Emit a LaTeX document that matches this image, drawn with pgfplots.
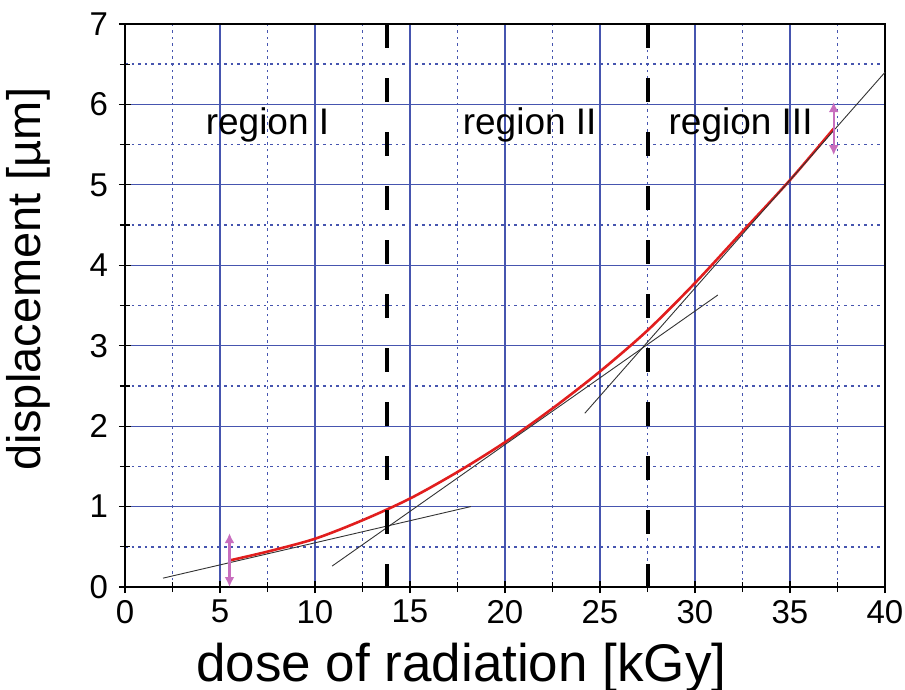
\documentclass[border=0pt]{standalone}
\usepackage{fontspec}
\setmainfont{Liberation Sans}
\usepackage{pgfplots}
\pgfplotsset{compat=1.18}
\usetikzlibrary{arrows.meta}
\definecolor{gridblue}{RGB}{70,85,175}
\definecolor{curvered}{RGB}{225,30,30}
\definecolor{arrowpink}{RGB}{200,110,190}
\begin{document}
\begin{tikzpicture}
\useasboundingbox (-62.5pt,-51.5pt) rectangle (390pt,293.5pt);
\begin{axis}[
  scale only axis,
  width=380pt, height=281.5pt,
  xmin=0, xmax=40, ymin=0, ymax=7,
  xtick={0,5,...,40}, ytick={0,1,...,7},
  minor xtick={2.5,7.5,...,37.5}, minor ytick={0.5,1.5,...,6.5},
  tick pos=left, tick align=center,
  major tick length=6pt, minor tick length=5pt,
  every tick/.style={black, line width=0.6pt},
  axis line style={black, line width=1pt},
  grid=both,
  major grid style={gridblue, line width=0.6pt},
  minor grid style={gridblue, line width=0.8pt, dash pattern=on 1.3pt off 2pt},
  /pgf/number format/assume math mode=true,
  tick label style={font=\fontsize{16.5}{18}\selectfont},
  yticklabel style={xshift=-2pt},
  clip=false,
]
% fitted displacement curve
\addplot[curvered, line width=1.3pt, smooth] coordinates {
  (5.5,0.33) (7.5,0.44) (10,0.60) (12.5,0.83) (15,1.10) (17.5,1.43)
  (20,1.80) (22.5,2.22) (25,2.68) (27.5,3.19) (30,3.78) (32.5,4.42)
  (35,5.06) (37.3,5.70)};
% tangent lines
\addplot[black!80, line width=0.45pt] coordinates {(2,0.11) (18.2,1.0)};
\addplot[black!80, line width=0.45pt] coordinates {(10.9,0.26) (31.2,3.63)};
\addplot[black!80, line width=0.45pt] coordinates {(24.2,2.16) (40,6.40)};
% region borders
\addplot[black, line width=2pt, dash pattern=on 12pt off 15pt] coordinates {(13.8,7) (13.8,0)};
\addplot[black, line width=2pt, dash pattern=on 12pt off 15pt] coordinates {(27.5,7) (27.5,0)};
% arrows
\draw[arrowpink, line width=1.1pt, {Latex[width=5pt,length=5pt]}-{Latex[width=5pt,length=5pt]}] (axis cs:5.5,0.67) -- (axis cs:5.5,0.0);
\draw[arrowpink, line width=1.1pt, {Latex[width=5pt,length=5pt]}-{Latex[width=5pt,length=5pt]}] (axis cs:37.3,6.03) -- (axis cs:37.3,5.37);
\node[font=\fontsize{18.5}{20}\selectfont] at (axis cs:7.5,5.75) {region I};
\node[font=\fontsize{18.5}{20}\selectfont] at (axis cs:21.3,5.75) {region II};
\node[font=\fontsize{18.5}{20}\selectfont] at (axis cs:32.4,5.75) {region III};
\node[font=\fontsize{26.5}{28}\selectfont] at (axis cs:17.7,-1.0) {dose of radiation [kGy]};
\node[font=\fontsize{23.5}{25}\selectfont, rotate=90] at (axis cs:-5.1,3.83) {displacement [µm]};
\end{axis}
\end{tikzpicture}
\end{document}
